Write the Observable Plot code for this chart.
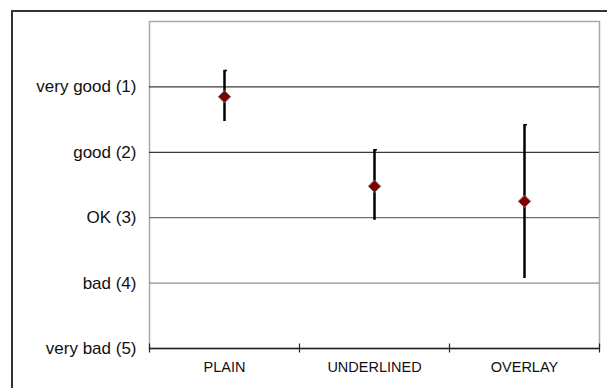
<!DOCTYPE html>
<html>
<head>
<meta charset="utf-8">
<script src="https://cdn.jsdelivr.net/npm/d3@7"></script>
<script src="https://cdn.jsdelivr.net/npm/@observablehq/plot@0.6"></script>
<style>
  html, body { margin: 0; padding: 0; background: #fff; overflow: hidden; }
  #wrap { position: relative; width: 607px; height: 388px; }
  #border { position: absolute; left: 11px; top: 10px; width: 700px; height: 500px;
            border-left: 2px solid #333; border-top: 2px solid #333; box-sizing: border-box; }
  #chart { position: absolute; left: 0; top: 0; }
</style>
</head>
<body>
<div id="wrap"><div id="border"></div><div id="chart"></div></div>
<script>
const categories = ["PLAIN", "UNDERLINED", "OVERLAY"];
const means = [1.15, 2.52, 2.75];
const upper = [0.75, 1.96, 1.58];   // top end of error bar (better)
const lower = [1.53, 3.04, 3.93];   // bottom end of error bar (worse)
const yTicks = [1, 2, 3, 4, 5];
const yLabels = ["very good (1)", "good (2)", "OK (3)", "bad (4)", "very bad (5)"];

const data = categories.map((c, i) => ({cat: c, pos: i + 0.5, mean: means[i], hi: upper[i], lo: lower[i]}));
const gridColor = v => (v <= 2 ? "#3a3a3a" : v === 3 ? "#6e6e6e" : "#8e8e8e");

const hook = {
  draw(ctx, size) {
    ctx.moveTo(0, 1.5);
    ctx.lineTo(0, 0);
    ctx.lineTo(2.5, 0);
  }
};

const chart = Plot.plot({
  width: 607,
  height: 388,
  marginLeft: 149,
  marginRight: 8,
  marginTop: 21,
  marginBottom: 40,
  style: {fontFamily: "'Liberation Sans', Arial, sans-serif", color: "#111", background: "transparent"},
  x: {domain: [0, categories.length], axis: null},
  y: {domain: [0, 5], reverse: true, axis: null},
  marks: [
    Plot.frame({stroke: "#a8a8a8", strokeWidth: 1.5}),
    Plot.ruleY([1, 2, 3, 4], {y: d => d, stroke: gridColor, strokeWidth: 1.2}),
    Plot.ruleY([5], {stroke: "#222", strokeWidth: 1.6}),
    Plot.axisX({ticks: d3.range(categories.length + 1), tickSize: 9, dy: -4.5, tickFormat: () => "", stroke: "#222", strokeWidth: 1.2, label: null}),
    Plot.axisX({ticks: data.map(d => d.pos), tickSize: 0, tickPadding: 13, tickFormat: (v) => categories[Math.floor(v)], fontSize: 14.5, fill: "#111", label: null}),
    Plot.axisY({ticks: yTicks, tickSize: 0, tickPadding: 13, tickFormat: (v) => yLabels[yTicks.indexOf(v)], fontSize: 17, fill: "#111", label: null}),
    Plot.ruleX(data, {x: "pos", y1: "hi", y2: "lo", stroke: "#000", strokeWidth: 2.5}),
    Plot.dot(data, {x: "pos", y: "hi", symbol: hook, r: 2, fill: "none", stroke: "#000", strokeWidth: 1.5}),
    Plot.dot(data, {x: "pos", y: "mean", symbol: "diamond2", r: 5.6, fill: "#800000", stroke: "#777", strokeWidth: 1})
  ]
});
document.getElementById("chart").appendChild(chart);
</script>
</body>
</html>
